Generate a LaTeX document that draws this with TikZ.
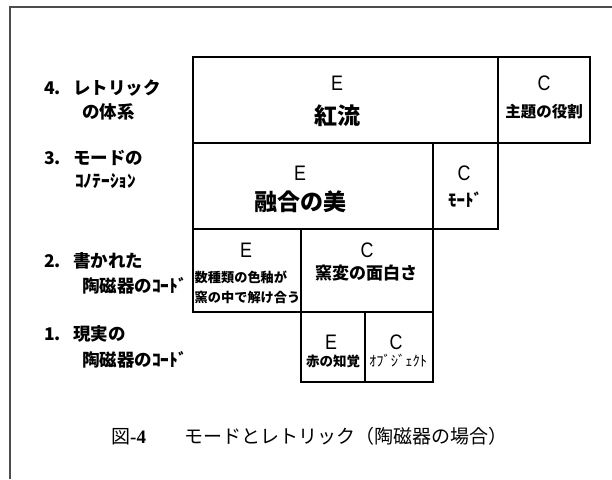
\documentclass[tikz,border=0pt]{standalone}
\usepackage{fontspec}
\setmainfont{Liberation Sans}
\newfontfamily\jp{Noto Sans CJK JP}
\newfontfamily\ecfont{Liberation Sans}[FakeStretch=0.85]
\newfontfamily\numserif{Liberation Serif}
\tikzset{
  box/.style={draw=black, line width=1.1pt, inner sep=0pt, outer sep=0pt},
  lett/.style={inner sep=0pt, font=\ecfont\fontsize{21}{21}\selectfont},
  lab/.style={inner sep=0pt, anchor=west, font=\jp\bfseries\fontsize{17.5}{17.5}\selectfont},
  frameline/.style={draw=black!70, line width=1.2pt}
}
\newcommand{\numlab}[1]{\makebox[29pt][l]{#1}}
\begin{document}
\begin{tikzpicture}[x=1pt, y=-1pt]
\useasboundingbox (0,0) rectangle (612,479);
% page frame
\coordinate (fa) at (10,479);
\coordinate (fb) at (10,7);
\coordinate (fc) at (612,7);
\draw[frameline] (fa) -- (fb) -- (fc);

% boxes
\node[box, minimum width=305pt, minimum height=86pt] (E4) at (345.5,100) {};
\node[box, minimum width=92pt,  minimum height=86pt] (C4) at (544,100) {};
\node[box, minimum width=240pt, minimum height=86pt] (E3) at (313,186) {};
\node[box, minimum width=65pt,  minimum height=86pt] (C3) at (465.5,186) {};
\node[box, minimum width=108pt, minimum height=83pt] (E2) at (247,270.5) {};
\node[box, minimum width=132pt, minimum height=83pt] (C2) at (367,270.5) {};
\node[box, minimum width=64pt,  minimum height=70pt] (E1) at (333,347) {};
\node[box, minimum width=68pt,  minimum height=70pt] (C1) at (399,347) {};

% row 4
\node[lett] (E4l) at (337,83) {E};
\node[inner sep=0pt, font=\jp\bfseries\fontsize{23}{23}\selectfont] (E4t) at (337,116) {紅流};
\node[lett] (C4l) at (544,83) {C};
\node[inner sep=0pt, font=\jp\bfseries\fontsize{15.5}{15.5}\selectfont] (C4t) at (544,112) {主題の役割};
% row 3
\node[lett] (E3l) at (300,173) {E};
\node[inner sep=0pt, font=\jp\bfseries\fontsize{23}{23}\selectfont] (E3t) at (300,202) {融合の美};
\node[lett] (C3l) at (464,173) {C};
\node[inner sep=0pt, font=\jp\bfseries\fontsize{17}{17}\selectfont] (C3t) at (465,200) {ﾓｰﾄﾞ};
% row 2
\node[lett] (E2l) at (246,250) {E};
\node[inner sep=0pt, anchor=west, font=\jp\bfseries\fontsize{13.2}{13.2}\selectfont] (E2t1) at (194.5,277) {数種類の色釉が};
\node[inner sep=0pt, anchor=west, font=\jp\bfseries\fontsize{13.2}{13.2}\selectfont] (E2t2) at (194.5,297) {窯の中で解け合う};
\node[lett] (C2l) at (367,250) {C};
\node[inner sep=0pt, font=\jp\bfseries\fontsize{17}{17}\selectfont] (C2t) at (366,273) {窯変の面白さ};
% row 1
\node[lett] (E1l) at (331,342) {E};
\node[inner sep=0pt, font=\jp\bfseries\fontsize{13.5}{13.5}\selectfont] (E1t) at (333,361) {赤の知覚};
\node[lett] (C1l) at (396,342) {C};
\node[inner sep=0pt, font=\jp\fontsize{14.5}{14.5}\selectfont] (C1t) at (398,361) {ｵﾌﾞｼﾞｪｸﾄ};

% left labels
\node[lab] (L4a) at (44,88) {\numlab{4.}レトリック};
\node[lab] (L4b) at (82,112) {の体系};
\node[lab] (L3a) at (44,158) {\numlab{3.}モードの};
\node[lab] (L3b) at (75,181) {ｺﾉﾃｰｼｮﾝ};
\node[lab] (L2a) at (44,261) {\numlab{2.}書かれた};
\node[lab] (L2b) at (82,286) {陶磁器のｺｰﾄﾞ};
\node[lab] (L1a) at (44,334) {\numlab{1.}現実の};
\node[lab] (L1b) at (82,360) {陶磁器のｺｰﾄﾞ};

% caption
\node[inner sep=0pt, anchor=west, font=\jp\fontsize{19}{19}\selectfont] (cap) at (111,436) {図{\numserif\bfseries -4}\hspace{2em}モードとレトリック（陶磁器の場合）};
\end{tikzpicture}
\end{document}
